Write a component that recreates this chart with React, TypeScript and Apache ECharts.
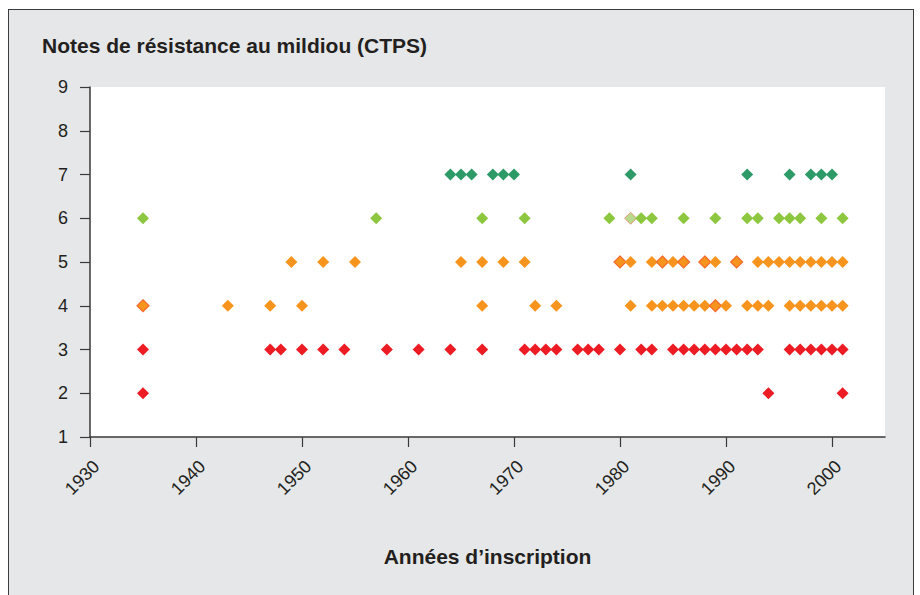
import { useEffect, useRef } from "react";
import * as echarts from "echarts";

// Axis ticks
const X_TICKS = [1930, 1940, 1950, 1960, 1970, 1980, 1990, 2000];
const Y_TICKS = [1, 2, 3, 4, 5, 6, 7, 8, 9];

// Years of registration for each resistance note
const NOTE_7 = [1964, 1965, 1966, 1968, 1969, 1970, 1981, 1992, 1996, 1998, 1999, 2000];
const NOTE_6 = [1935, 1957, 1967, 1971, 1979, 1981, 1982, 1983, 1986, 1989, 1992, 1993, 1995, 1996, 1997, 1999, 2001];
const NOTE_5 = [1949, 1952, 1955, 1965, 1967, 1969, 1971, 1980, 1981, 1983, 1984, 1985, 1986, 1988, 1989, 1991, 1993, 1994, 1995, 1996, 1997, 1998, 1999, 2000, 2001];
const NOTE_4 = [1935, 1943, 1947, 1950, 1967, 1972, 1974, 1981, 1983, 1984, 1985, 1986, 1987, 1988, 1989, 1990, 1992, 1993, 1994, 1996, 1997, 1998, 1999, 2000, 2001];
const NOTE_3 = [1935, 1947, 1948, 1950, 1952, 1954, 1958, 1961, 1964, 1967, 1971, 1972, 1973, 1974, 1976, 1977, 1978, 1980, 1982, 1983, 1985, 1986, 1987, 1988, 1989, 1990, 1991, 1992, 1993, 1996, 1997, 1998, 1999, 2000, 2001];
const NOTE_2 = [1935, 1994, 2001];

// Points that appear drawn twice (darker outline) or faded
const OUTLINED_5 = [1980, 1984, 1986, 1988, 1991];
const OUTLINED_4 = [1935, 1989];
const FADED_6 = [1981];

const COLOR_7 = "#2e9a68";
const COLOR_6 = "#8dc63f";
const COLOR_ORANGE = "#f7941d";
const COLOR_RED = "#ed1c24";
const OUTLINE = "#f26a2a";

const FONT = "'Liberation Sans', Arial, Helvetica, sans-serif";
const TEXT = "#231f20";

function buildSeries(name: string, note: number, years: number[], color: string, outlined: number[] = [], faded: number[] = []) {
  return {
    name,
    type: "scatter",
    symbol: "diamond",
    symbolSize: 12,
    itemStyle: { color, opacity: 1 },
    data: years.map((y) => {
      if (faded.includes(y)) {
        return { value: [y, note], itemStyle: { color: "#b8d98e", borderColor: "#e39a78", borderWidth: 1 } };
      }
      if (outlined.includes(y)) {
        return { value: [y, note], itemStyle: { borderColor: OUTLINE, borderWidth: 1.2 } };
      }
      return { value: [y, note] };
    }),
  };
}

export default function App() {
  const ref = useRef<HTMLDivElement>(null);

  useEffect(() => {
    if (!ref.current) return;
    const chart = echarts.init(ref.current, undefined, { renderer: "svg" });
    chart.setOption({
      animation: false,
      backgroundColor: "transparent",
      title: {
        text: "Notes de résistance au mildiou (CTPS)",
        left: 37,
        top: 30,
        textStyle: { fontFamily: FONT, fontSize: 21, fontWeight: "bold", color: TEXT },
      },
      grid: {
        left: 90,
        top: 87,
        right: 35,
        bottom: 158,
        show: true,
        backgroundColor: "#ffffff",
        borderWidth: 0,
      },
      xAxis: {
        type: "value",
        min: 1930,
        max: 2005,
        interval: 10,
        name: "Années d’inscription",
        nameLocation: "middle",
        nameGap: 109,
        nameTextStyle: { fontFamily: FONT, fontSize: 21, fontWeight: "bold", color: TEXT },
        splitLine: { show: false },
        axisLine: { show: true, lineStyle: { color: "#3a3a3a", width: 1.5 } },
        axisTick: { show: true, length: 10, lineStyle: { color: "#3a3a3a", width: 1.2 }, customValues: X_TICKS },
        axisLabel: {
          customValues: X_TICKS,
          formatter: (v: number) => String(v),
          rotate: 45,
          margin: 20,
          verticalAlign: "top",
          fontFamily: FONT,
          fontSize: 18,
          color: TEXT,
        },
      },
      yAxis: {
        type: "value",
        min: 1,
        max: 9,
        interval: 1,
        splitLine: { show: false },
        axisLine: { show: true, lineStyle: { color: "#3a3a3a", width: 1.5 } },
        axisTick: { show: true, length: 10, lineStyle: { color: "#3a3a3a", width: 1.2 }, customValues: Y_TICKS },
        axisLabel: { customValues: Y_TICKS, margin: 22, fontFamily: FONT, fontSize: 18, color: TEXT },
      },
      series: [
        buildSeries("7", 7, NOTE_7, COLOR_7),
        buildSeries("6", 6, NOTE_6, COLOR_6, [], FADED_6),
        buildSeries("5", 5, NOTE_5, COLOR_ORANGE, OUTLINED_5),
        buildSeries("4", 4, NOTE_4, COLOR_ORANGE, OUTLINED_4),
        buildSeries("3", 3, NOTE_3, COLOR_RED),
        buildSeries("2", 2, NOTE_2, COLOR_RED),
      ],
    });
    return () => chart.dispose();
  }, []);

  return (
    <div style={{ position: "fixed", left: 0, top: 0, width: 920, height: 595, background: "#ffffff", overflow: "hidden" }}>
      <div
        style={{
          position: "absolute",
          left: 8,
          top: 9,
          width: 904,
          height: 600,
          background: "#e6e7e8",
          borderTop: "1.5px solid #3c3c3c",
          borderLeft: "1.5px solid #3c3c3c",
          borderRight: "1.5px solid #3c3c3c",
        }}
      />
      <div ref={ref} style={{ position: "absolute", left: 0, top: 0, width: 920, height: 595 }} />
    </div>
  );
}
